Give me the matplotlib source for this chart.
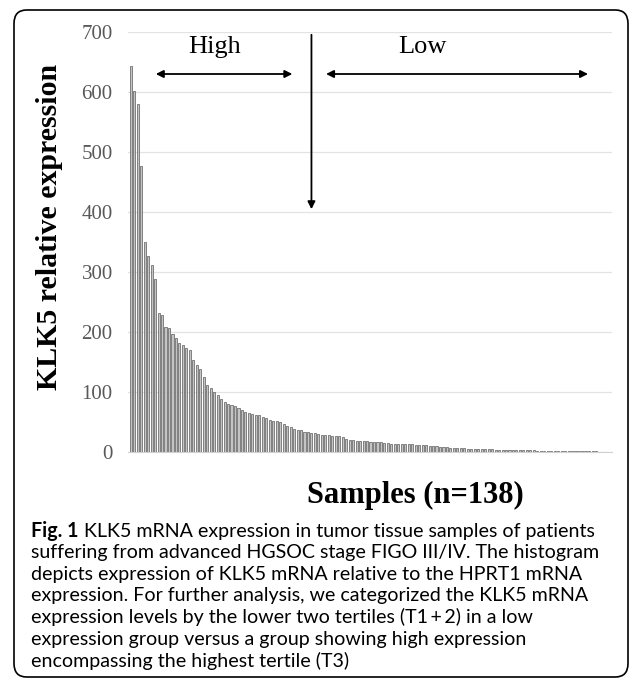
import matplotlib.pyplot as plt
from matplotlib.patches import FancyBboxPatch

###DATA###
# KLK5 relative expression per sample, sorted high -> low (n=138)
klk5 = [644, 602, 580, 477, 350, 327, 311, 289, 231, 228,
        208, 206, 197, 190, 181, 178, 173, 170, 154, 145,
        138, 125, 112, 106, 100, 95, 89, 84, 80, 79,
        77, 74, 70, 67, 65, 64, 62, 61, 58, 56,
        53, 52, 51, 50, 46, 43, 41, 39, 37, 36,
        34, 33, 31, 31, 30, 29, 29, 28, 27, 27,
        26, 25, 21, 20, 20, 19, 19, 18, 18, 17,
        17, 16, 16, 15, 15, 14, 14, 14, 13, 13,
        13, 13, 12, 12, 11, 11, 10, 10, 10, 9,
        9, 8, 7, 7, 6.5, 6.3, 6, 5.8, 5.5, 5.3,
        5, 4.8, 4.6, 4.4, 4.2, 4, 3.8, 3.6, 3.5, 3.3,
        3.2, 3.1, 3, 2.9, 2.8, 2.7, 2.6, 2.5, 2.4, 2.3,
        2.2, 2.1, 2, 2, 1.9, 1.8, 1.7, 1.6, 1.5, 1.4,
        1.3, 1.2, 1.1, 1.0, 0.9, 0.8, 0.7, 0.6]
samples = list(range(len(klk5)))
yticks = [0, 100, 200, 300, 400, 500, 600, 700]

caption = ["KLK5 mRNA expression in tumor tissue samples of patients",
           "suffering from advanced HGSOC stage FIGO III/IV. The histogram",
           "depicts expression of KLK5 mRNA relative to the HPRT1 mRNA",
           "expression. For further analysis, we categorized the KLK5 mRNA",
           "expression levels by the lower two tertiles (T1\u2009+\u20092) in a low",
           "expression group versus a group showing high expression",
           "encompassing the highest tertile (T3)"]

W, H = 633, 681

###FIGURE###
fig = plt.figure(figsize=(W/100, H/100), dpi=100)

# rounded frame around figure + caption
box = FancyBboxPatch((14/W, 4/H), 614/W, 667/H,
                     boxstyle="round,pad=0,rounding_size=0.02",
                     transform=fig.transFigure, fill=False,
                     edgecolor='black', linewidth=1.2)
fig.patches.append(box)

ax = fig.add_axes([128/W, 1 - 452/H, 484/W, 420/H])
ax.bar(samples, klk5, width=0.6, color='#c4c4c4', edgecolor='#5a5a5a', linewidth=0.5, zorder=2)

ax.set_ylim(0, 700)
ax.set_xlim(-0.8, 138.5)
ax.set_yticks(yticks)
ax.set_yticklabels([str(t) for t in yticks], family='Liberation Serif', size=15, color='#595959')
ax.set_xticks([])
ax.tick_params(axis='y', length=0, pad=11)
ax.grid(axis='y', color='#e3e3e3', linewidth=0.9, zorder=0)
for s in ['top', 'right', 'left']:
	ax.spines[s].set_visible(False)
ax.spines['bottom'].set_color('#d0d0d0')

ax.set_ylabel('KLK5 relative expression', family='Liberation Serif', weight='bold', size=21.5)
ax.yaxis.set_label_coords(-0.135, 0.536)
ax.set_xlabel('Samples (n=138)', family='Liberation Serif', weight='bold', size=22)
ax.xaxis.set_label_coords(0.593, -0.07)

#group arrows
arrow = dict(arrowstyle='<|-|>', color='black', lw=1.3, mutation_scale=11)
ax.annotate('', xy=(6.4, 630), xytext=(47.3, 630), arrowprops=arrow, annotation_clip=False)
ax.annotate('', xy=(55.4, 630), xytext=(132.4, 630), arrowprops=arrow, annotation_clip=False)
ax.annotate('', xy=(52, 400), xytext=(52, 700),
            arrowprops=dict(arrowstyle='-|>', color='black', lw=1.3, mutation_scale=11), annotation_clip=False)
ax.text(24, 675, 'High', family='Liberation Serif', size=19, ha='center', va='center')
ax.text(84, 675, 'Low', family='Liberation Serif', size=19, ha='center', va='center')

#caption
y0 = 1 - 531/H
step = 21.6/H
fs = 14.1
r = fig.canvas.get_renderer()
t = fig.text(31/W, y0, 'Fig. 1', family='Lato', weight='bold', size=fs, va='center')
bb = t.get_window_extent(renderer=r)
fig.text((bb.x1 + 5)/W, y0, caption[0], family='Lato', size=fs, va='center')
for i, line in enumerate(caption[1:]):
	fig.text(31/W, y0 - step*(i+1), line, family='Lato', size=fs, va='center')

plt.savefig('out.png', dpi=100)
plt.close()
